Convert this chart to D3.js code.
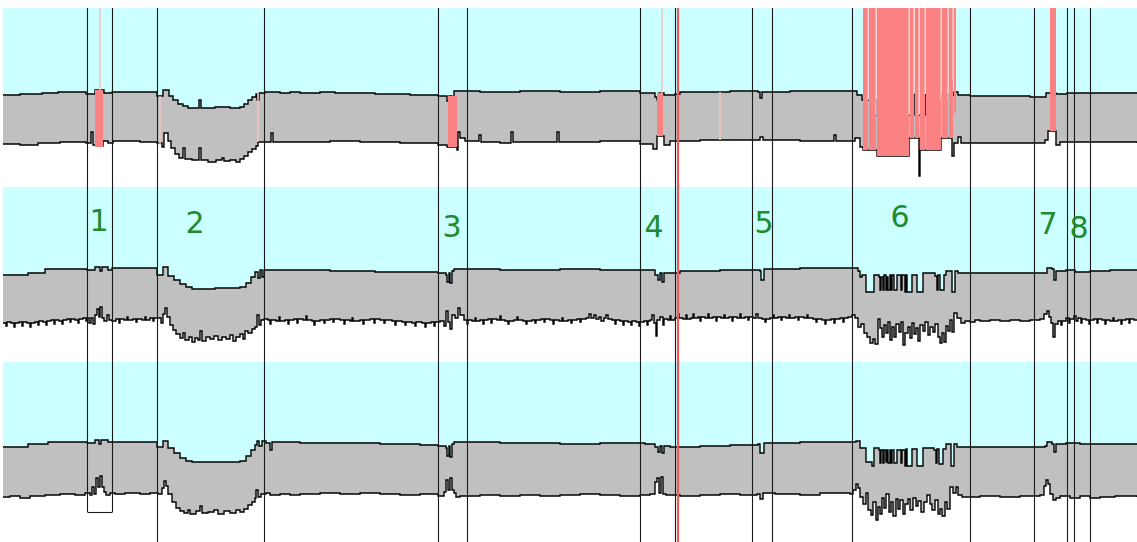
<!DOCTYPE html>
<html><head><meta charset="utf-8">
<script src="https://cdn.jsdelivr.net/npm/d3@7"></script>
<style>html,body{margin:0;padding:0;background:#fff;}svg{display:block;}</style>
</head><body>
<svg id="chart" width="1137" height="542"></svg>
<script>
// ---- data: [position, depth] breakpoints of each step profile ----
const track1Upper = [[3,87],[20,86],[42,85],[58,84],[86,86],[95,82],[104,85],[112,84],[140,84],[157,88],[163,82],[169,88],[173,92],[178,96],[183,98],[188,100],[195,100],[199,92],[201,100],[215,99],[230,100],[240,99],[244,96],[248,92],[252,89],[256,86],[257,92],[259,85],[265,84],[280,85],[290,84],[300,85],[320,84],[335,85],[360,85],[375,86],[410,87],[438,88],[447,93],[449,88],[452,95],[454,83],[480,84],[520,83],[560,84],[600,83],[640,85],[655,89],[657,92],[659,85],[664,87],[675,86],[680,84],[700,84],[730,83],[758,84],[760,90],[762,84],[790,83],[820,83],[857,87],[862,92],[868,92],[877,107],[909,107],[914,86],[918,107],[925,87],[941,90],[948,87],[954,84],[958,87],[970,88],[1000,88],[1030,89],[1046,85],[1056,86],[1067,85],[1100,85],[1137,85]];
const track1Lower = [[3,136],[20,137],[38,135],[60,134],[86,135],[91,124],[93,137],[97,138],[103,133],[108,135],[113,133],[140,134],[157,135],[162,139],[164,125],[168,133],[171,140],[175,146],[179,150],[183,140],[185,151],[192,152],[199,140],[201,152],[208,154],[216,152],[222,150],[224,153],[230,152],[236,154],[240,151],[244,148],[248,144],[252,141],[256,138],[258,134],[271,125],[273,134],[300,134],[330,133],[360,134],[400,135],[438,137],[447,139],[457,142],[458,124],[460,130],[465,133],[479,127],[481,134],[500,135],[511,124],[513,134],[557,124],[559,134],[600,133],[640,136],[653,141],[657,128],[664,137],[670,133],[700,132],[760,129],[763,132],[800,133],[834,127],[836,133],[855,130],[860,139],[863,142],[877,148],[909,130],[919,168],[920,142],[941,130],[952,148],[954,135],[958,129],[961,135],[1000,135],[1045,132],[1048,123],[1056,137],[1060,134],[1100,134],[1137,135]];

const track2Upper = [[3,88],[28,86],[45,82],[87,83],[95,80],[100,84],[102,80],[108,83],[112,81],[157,88],[163,80],[168,89],[174,93],[180,97],[186,100],[192,102],[215,101],[240,100],[246,96],[251,90],[255,85],[258,91],[260,83],[262,90],[264,83],[300,83],[330,84],[375,85],[438,86],[446,88],[447,95],[449,86],[450,96],[452,84],[454,82],[500,83],[560,82],[600,83],[645,83],[655,88],[658,93],[660,86],[662,95],[664,86],[670,86],[680,84],[720,83],[760,84],[761,93],[764,82],[800,81],[852,81],[858,84],[860,90],[862,88],[866,105],[872,105],[874,88],[879,90],[880,103],[881,90],[883,103],[884,88],[886,103],[887,90],[888,103],[890,88],[891,103],[892,88],[894,103],[896,103],[897,88],[899,88],[901,103],[902,88],[905,105],[906,88],[907,105],[911,105],[912,88],[917,105],[922,105],[923,86],[935,89],[937,103],[938,88],[940,103],[943,103],[944,88],[946,84],[952,105],[955,84],[958,86],[962,86],[1000,86],[1045,86],[1047,81],[1052,82],[1054,93],[1056,84],[1066,83],[1075,85],[1090,84],[1110,83],[1137,83]];
const track2Lower = [[3,136],[6,139],[7,135],[11,136],[14,140],[15,136],[19,135],[22,139],[23,135],[27,136],[30,140],[31,136],[35,135],[38,138],[39,134],[43,135],[46,138],[47,134],[51,133],[54,137],[55,133],[59,134],[62,137],[63,133],[67,132],[70,135],[71,132],[75,133],[78,136],[79,132],[83,131],[86,134],[87,131],[89,136],[91,131],[93,137],[95,128],[97,122],[99,130],[100,120],[102,131],[104,134],[107,128],[109,133],[112,134],[116,132],[119,136],[120,132],[124,133],[127,130],[128,133],[133,132],[136,135],[137,132],[142,133],[145,130],[146,133],[150,131],[153,134],[154,131],[158,131],[161,136],[163,127],[165,121],[167,130],[170,138],[173,143],[176,147],[180,151],[183,146],[185,153],[189,150],[192,155],[195,151],[198,153],[200,144],[202,154],[206,150],[210,152],[214,149],[218,153],[222,150],[226,152],[230,148],[233,154],[236,150],[240,147],[243,152],[245,144],[248,146],[252,142],[255,140],[257,128],[259,138],[261,133],[264,132],[268,133],[270,137],[271,133],[276,134],[279,130],[280,134],[285,133],[288,137],[289,133],[294,132],[297,136],[298,132],[303,133],[306,129],[307,133],[312,134],[314,138],[315,134],[320,133],[324,136],[325,133],[330,132],[333,135],[334,132],[340,133],[344,137],[345,133],[350,134],[352,131],[353,134],[360,133],[363,137],[364,133],[370,132],[374,136],[375,132],[380,133],[384,136],[385,133],[392,134],[395,138],[396,134],[402,135],[405,138],[406,135],[412,136],[415,139],[416,135],[422,136],[425,140],[426,136],[431,135],[434,139],[435,135],[440,134],[444,139],[446,124],[448,135],[450,142],[452,128],[455,131],[458,121],[460,128],[464,133],[467,137],[468,133],[472,134],[475,131],[476,134],[480,133],[483,137],[484,133],[488,132],[491,136],[492,132],[497,133],[500,129],[501,133],[505,134],[508,137],[509,134],[514,133],[517,130],[518,133],[523,134],[526,137],[527,134],[532,133],[535,136],[536,133],[541,132],[544,135],[545,132],[550,133],[553,137],[554,133],[559,134],[562,131],[563,134],[568,133],[571,136],[572,133],[577,132],[580,135],[581,132],[586,131],[589,127],[591,131],[594,128],[596,132],[599,130],[601,134],[604,131],[606,128],[608,132],[612,133],[615,137],[616,133],[620,134],[623,138],[624,134],[628,135],[631,138],[632,134],[636,135],[639,139],[640,135],[644,134],[647,138],[648,134],[650,133],[652,128],[654,136],[656,149],[657,133],[660,130],[663,138],[664,132],[668,133],[670,129],[671,133],[675,131],[678,127],[679,131],[683,132],[686,128],[687,132],[691,131],[693,127],[694,131],[698,130],[700,134],[701,130],[705,131],[708,127],[709,131],[713,130],[716,134],[717,130],[721,131],[724,128],[725,131],[729,130],[732,134],[733,130],[737,131],[740,127],[741,131],[745,130],[748,133],[749,130],[753,131],[756,127],[758,131],[762,132],[765,135],[766,132],[770,131],[773,128],[774,131],[778,130],[781,133],[782,130],[786,131],[789,128],[790,131],[795,130],[798,133],[799,130],[804,131],[807,128],[808,131],[813,132],[816,135],[817,132],[822,133],[825,137],[826,133],[831,132],[834,136],[835,132],[840,131],[843,135],[844,131],[848,130],[852,128],[855,131],[858,140],[861,137],[864,146],[867,150],[870,156],[873,152],[875,157],[878,132],[880,141],[882,150],[884,138],[886,146],[888,135],[890,153],[892,140],[894,150],[896,137],[899,145],[901,135],[903,158],[905,146],[908,140],[910,151],[912,136],[914,147],[916,141],[918,154],[920,138],[923,144],[925,135],[928,148],[930,140],[933,145],[935,137],[938,150],[940,156],[942,146],[944,155],[946,139],[948,144],[950,133],[952,145],[954,126],[957,131],[961,136],[965,134],[970,135],[975,133],[980,134],[990,133],[1000,134],[1010,133],[1020,134],[1030,133],[1040,132],[1044,127],[1047,124],[1049,130],[1051,136],[1053,150],[1055,137],[1058,134],[1061,138],[1062,134],[1066,131],[1069,136],[1070,132],[1074,129],[1076,134],[1078,131],[1081,136],[1082,132],[1086,133],[1089,137],[1090,133],[1094,132],[1097,136],[1098,132],[1102,133],[1105,137],[1106,133],[1110,134],[1113,131],[1114,134],[1118,133],[1121,137],[1122,133],[1126,132],[1129,136],[1130,132],[1134,133],[1137,133]];

const track3Upper = [[3,85],[28,82],[48,80],[87,81],[95,78],[99,82],[101,78],[108,80],[112,80],[157,85],[163,79],[168,86],[174,91],[180,96],[186,99],[192,100],[220,100],[240,99],[246,94],[251,88],[255,83],[257,79],[259,84],[262,79],[266,81],[270,88],[272,80],[300,81],[340,81],[380,82],[420,83],[438,84],[446,86],[447,94],[449,84],[450,95],[452,82],[454,80],[500,81],[560,82],[600,81],[645,82],[655,85],[658,90],[660,84],[662,91],[664,84],[670,85],[700,84],[730,83],[758,82],[760,91],[764,81],[800,80],[852,80],[856,79],[860,86],[866,100],[872,104],[874,86],[879,88],[880,101],[881,88],[883,101],[884,88],[886,100],[887,88],[888,101],[890,88],[891,101],[892,88],[894,101],[896,101],[897,88],[899,88],[901,101],[902,88],[905,104],[906,87],[907,104],[911,104],[912,87],[917,104],[922,104],[923,86],[934,88],[936,101],[937,87],[939,102],[942,102],[943,87],[946,82],[951,104],[954,82],[957,85],[965,85],[1000,85],[1045,84],[1047,80],[1052,82],[1054,90],[1056,82],[1066,81],[1080,82],[1090,82],[1137,82]];
const track3Lower = [[3,135],[10,134],[20,136],[30,134],[45,133],[60,132],[75,133],[85,131],[90,133],[92,125],[94,132],[96,116],[98,125],[100,114],[102,125],[104,130],[106,133],[110,131],[115,132],[125,131],[140,132],[150,131],[158,132],[162,126],[164,119],[166,124],[168,132],[172,140],[176,146],[180,149],[184,151],[188,148],[190,152],[196,149],[200,144],[202,151],[208,150],[214,148],[218,152],[224,149],[230,151],[236,148],[240,150],[244,147],[248,143],[252,140],[255,136],[256,128],[258,135],[261,132],[266,131],[270,133],[280,132],[290,133],[300,132],[320,131],[340,132],[360,131],[380,132],[400,133],[420,132],[438,134],[444,130],[446,118],[448,128],[450,116],[452,128],[454,131],[456,135],[460,134],[480,133],[500,134],[520,133],[540,134],[560,133],[580,132],[600,133],[620,134],[640,133],[650,132],[655,120],[657,116],[659,131],[661,115],[663,132],[666,133],[680,134],[700,133],[720,132],[740,133],[757,132],[760,137],[763,131],[775,132],[800,133],[820,131],[850,132],[853,128],[856,122],[858,126],[860,135],[863,142],[866,131],[868,148],[871,153],[873,140],[876,158],[878,145],[880,152],[882,136],[884,146],[886,132],[889,150],[891,140],[893,154],[896,137],[898,147],[900,138],[903,152],[905,142],[908,137],[910,148],[913,136],[916,144],[918,139],[921,150],[924,140],[927,133],[930,142],[932,148],[935,138],[938,152],[940,147],[942,154],[945,140],[947,147],[950,125],[953,131],[956,125],[958,133],[962,135],[980,134],[1000,135],[1020,134],[1040,133],[1044,124],[1046,118],[1048,122],[1050,132],[1053,138],[1056,136],[1060,134],[1070,136],[1080,134],[1090,136],[1100,135],[1115,134],[1137,135]];

// masked stretches on the first track: [start, end, top depth, bottom depth]
const maskedBlocks = [[95,103,82,139],[448,457,88,139],[657,663,85,128],[863,868,0,142],[869,876,0,142],[877,909,0,148],[910,914,0,130],[915,919,0,130],[920,925,0,142],[926,941,0,142],[942,948,0,130],[949,953,0,130],[954,956,0,105],[1050,1056,0,123]];
// thin faint masked positions on the first track: [position, top depth, bottom depth]
const faintMarks = [[100,0,82],[160,88,137],[258,84,134],[662,0,85],[720,84,132],[868,0,92],[876,0,107],[909,0,107],[914,0,86],[919,0,107],[925,0,86],[941,0,92],[948,0,92],[953,0,72]];

// flagged regions
const regionStart = [87,157,438,640,752,852,1034,1074];
const regionEnd   = [112,264,467,675,772,970,1067,1090];
const regionName  = ["1","2","3","4","5","6","7","8"];
const regionLabelAt = [99,195,452,654,764,900,1048,1079];
const breakpointPos = 678;

// ---- layout ----
const W = 1137, H = 542;
const trackTops = [8, 187, 362];
const trackSpan = 180;
const panelTop = 8;
const boxBottom = 512;
const labelBaselines = [231,233,237,237,233,227,234,238];

const svg = d3.select("#chart");
const x = d3.scaleLinear().domain([0, 1137]).range([0, W]);

function stepAt(series, pos) {
  let v = series[0][1];
  for (const p of series) { if (p[0] <= pos) v = p[1]; else break; }
  return v;
}
function merge(a, b) {
  const xs = Array.from(new Set(a.map(d => d[0]).concat(b.map(d => d[0])))).sort((p, q) => p - q);
  return xs.map(px => ({ pos: px, hi: stepAt(a, px), lo: stepAt(b, px) }));
}

const tracks = [[track1Upper, track1Lower], [track2Upper, track2Lower], [track3Upper, track3Lower]];

tracks.forEach(([up, lo], i) => {
  const y = d3.scaleLinear().domain([0, trackSpan]).range([trackTops[i], trackTops[i] + trackSpan]);
  const g = svg.append("g");
  const merged = merge(up, lo);

  // sky above the upper profile
  g.append("path").datum(up)
    .attr("fill", "#ccffff")
    .attr("d", d3.area().curve(d3.curveStepAfter).x(d => x(d[0])).y0(y(0)).y1(d => y(d[1])));

  // band between the two profiles
  g.append("path").datum(merged)
    .attr("fill", "#c0c0c0")
    .attr("d", d3.area().curve(d3.curveStepAfter).x(d => x(d.pos)).y0(d => y(d.hi)).y1(d => y(d.lo)));

  const line = d3.line().curve(d3.curveStepAfter).x(d => x(d[0])).y(d => y(d[1]));
  [up, lo].forEach(s => g.append("path").datum(s)
    .attr("fill", "none").attr("stroke", "#000").attr("stroke-width", 1.4).attr("d", line));

  if (i === 0) {
    g.selectAll("rect.mask").data(maskedBlocks).join("rect")
      .attr("x", d => x(d[0])).attr("width", d => x(d[1]) - x(d[0]))
      .attr("y", d => y(d[2])).attr("height", d => y(d[3]) - y(d[2]))
      .attr("fill", "#fa8282");
    g.selectAll("rect.faint").data(faintMarks).join("rect")
      .attr("x", d => x(d[0]) - 0.75).attr("width", 1.5)
      .attr("y", d => y(d[1])).attr("height", d => y(d[2]) - y(d[1]))
      .attr("fill", "#f4c4c4");
  }
});

// region boundaries
const rg = svg.append("g").attr("stroke", "#1a1a1a").attr("stroke-width", 1.1).attr("fill", "none");
regionStart.forEach((s, i) => {
  const bottom = i === 0 ? boxBottom : H;
  [s, regionEnd[i]].forEach(p => rg.append("line")
    .attr("x1", x(p) + 0.5).attr("x2", x(p) + 0.5).attr("y1", panelTop).attr("y2", bottom));
  if (i === 0) rg.append("line")
    .attr("x1", x(s) + 0.5).attr("x2", x(regionEnd[i]) + 0.5).attr("y1", bottom + 0.5).attr("y2", bottom + 0.5);
});

// breakpoint marker
svg.append("line")
  .attr("x1", x(breakpointPos)).attr("x2", x(breakpointPos))
  .attr("y1", panelTop).attr("y2", H)
  .attr("stroke", "#f05a5a").attr("stroke-width", 2.2);

// region numbers
svg.selectAll("text.region").data(regionName).join("text")
  .attr("x", (d, i) => x(regionLabelAt[i]))
  .attr("y", (d, i) => labelBaselines[i])
  .attr("text-anchor", "middle")
  .attr("font-family", "DejaVu Sans, sans-serif")
  .attr("font-size", 30)
  .attr("fill", "#1e8c2e")
  .text(d => d);
</script>
</body></html>
